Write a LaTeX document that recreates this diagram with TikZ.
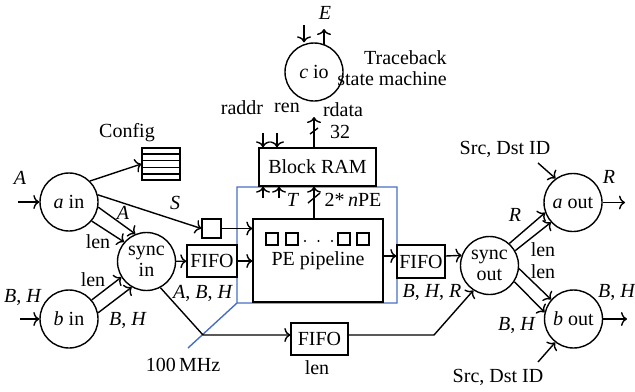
\documentclass[tikz,border=0pt]{standalone}
\usepackage{fontspec}
\setmainfont{Liberation Serif}
\usetikzlibrary{arrows,arrows.meta,positioning,calc}
\definecolor{clkblue}{RGB}{72,110,196}
\tikzset{
    unit/.style={circle, draw=black, minimum size=29pt, inner sep=0pt, align=center},
    blk/.style={rectangle, draw=black, inner sep=1pt},
    pil/.style={-{To[length=3pt,width=7pt]}},
    lbl/.style={inner sep=1pt}
}
\newcommand{\vi}[1]{\textit{#1}}

\begin{document}
\begin{tikzpicture}[x=0.5pt, y=-0.5pt, line width=0.7pt, font=\fontsize{10}{10.5}\selectfont]
    \useasboundingbox (0,0) rectangle (635,391);
    % clock domain
    \draw[clkblue] (188,348) -- (237,303) -- (397,303) -- (397,187) -- (237,187) -- (237,303);
    \node[lbl] (mhz) at (183,365) {100\,MHz};

    % state machines
    \node[unit] (ain) at (69,202) {\vi{a} in};
    \node[unit] (bin) at (69,319) {\vi{b} in};
    \node[unit] (syncin) at (146.5,261.5) {sync\\in};
    \node[unit] (cio) at (314,72) {\vi{c} io};
    \node[unit] (syncout) at (489.5,265.5) {sync\\out};
    \node[unit] (aout) at (573,202.5) {\vi{a} out};
    \node[unit] (bout) at (573.5,319) {\vi{b} out};

    % boxes
    \node[blk, minimum width=58.5pt, minimum height=19pt] (bram) at (317.5,167) {Block RAM};
    \node[blk, minimum width=65pt, minimum height=41.5pt] (pe) at (318,260.5) {\raisebox{-6pt}{PE pipeline}};
    \foreach \x [count=\i] in {272,292,344,363}
      \node[blk, minimum size=6pt, inner sep=0pt] (pe\i) at (\x,239) {};
    \foreach \x [count=\i] in {305,318.5,332}
      \fill (\x,241) circle (0.6pt);
    \node[blk, minimum width=25pt, minimum height=16pt] (fifoin) at (212,261) {FIFO};
    \node[blk, minimum width=28.5pt, minimum height=16pt] (fifolen) at (319.5,339) {FIFO};
    \node[blk, minimum width=24pt, minimum height=16.5pt, inner sep=0pt] (fifoout) at (421,261.5) {FIFO};
    \node[blk, minimum size=9.5pt, inner sep=0pt] (sq) at (211.5,228.5) {};
    \node[blk, minimum width=19pt, minimum height=16pt, inner sep=0pt] (cfg) at (161,164) {};
    \foreach \k in {1,...,4}
      \draw ($(cfg.north west)!{\k/5}!(cfg.south west)$) -- ($(cfg.north east)!{\k/5}!(cfg.south east)$);
    \node[lbl] (cfgl) at (127,133) {Config};

    % left side
    \coordinate (ina) at (18,202);
    \coordinate (inb) at (20,319);
    \draw[pil] (ina) -- (ain);
    \node[lbl] at (20,178) {\vi{A}};
    \draw[pil] (inb) -- (bin);
    \node[lbl] at (23,297) {\vi{B}, \vi{H}};
    \draw[pil] (ain.45) -- (cfg.west);
    \draw[pil] (ain.14) -- (sq.west);
    \node[lbl] at (175,203) {\vi{S}};
    \draw[pil] (ain.-10) -- (syncin.112);
    \node[lbl] at (123,213) {\vi{A}};
    \draw[pil] (ain.-40) -- (syncin.139);
    \node[lbl] at (98,242) {len};
    \draw[pil] (bin.40) -- (syncin.212);
    \node[lbl] at (93,280) {len};
    \draw[pil] (bin.12) -- (syncin.240);
    \node[lbl] at (128,320) {\vi{B}, \vi{H}};
    \draw[pil] (syncin) -- (fifoin);
    \node[lbl] at (203,293) {\vi{A}, \vi{B}, \vi{H}};
    \draw[pil] (fifoin) -- (fifoin -| pe.west);
    \draw[pil] (sq) -- (sq -| pe.west);

    % len bypass
    \coordinate (bend1) at (203,335);
    \coordinate (bend2) at (434,335);
    \draw[pil] (syncin.-62) -- (bend1) -- (bend1 -| fifolen.west);
    \node[lbl] at (317,368) {len};
    \draw[pil] (bend2 -| fifolen.east) -- (bend2) -- (syncout.237);
    \node[lbl] at (432,292) {\vi{B}, \vi{H}, \vi{R}};

    % block RAM
    \coordinate (ra) at (263,133);
    \coordinate (re) at (277,133);
    \coordinate (rd) at (314,117);
    \draw[pil] (ra) -- (ra |- bram.north);
    \draw[pil] (re) -- (re |- bram.north);
    \draw[pil] (rd |- bram.north) -- (rd);
    \draw (310,134) -- (318,128);
    \node[lbl] at (242,108) {raddr};
    \node[lbl] at (287,108) {ren};
    \node[lbl] at (343,110) {rdata};
    \node[lbl] at (340,132) {32};
    \coordinate (wa) at (263,198);
    \coordinate (wb) at (279,198);
    \draw[pil] (wa) -- (wa |- bram.south);
    \draw[pil] (wb) -- (wb |- bram.south);
    \node[lbl] at (293,200) {\vi{T}};
    \draw[pil] (pe.north -| rd) -- (rd |- bram.south);
    \draw (308,203) -- (320,193);
    \node[lbl] at (353,200) {2*\,\vi{n}PE};

    % traceback
    \coordinate (cin) at (304,25);
    \coordinate (cout) at (324,29);
    \draw[pil] (cin) -- (cin |- cio.north);
    \draw[pil] (cout |- 0,45) -- (cout);
    \node[lbl] at (325,13) {\vi{E}};
    \node[lbl, align=right] (tbl) at (392,68) {Traceback\\state machine};

    % right side
    \coordinate (po) at (390,256);
    \draw[pil] (po -| pe.east) -- (po -| fifoout.west);
    \draw[pil] (po -| fifoout.east) -- (syncout.160);
    \draw[pil] (syncout.48) -- (aout.200);
    \node[lbl] at (515,215) {\vi{R}};
    \draw[pil] (syncout.30) -- (aout.222);
    \node[lbl] at (543,250) {len};
    \draw[pil] (syncout.-6) -- (bout.139);
    \node[lbl] at (543,272) {len};
    \draw[pil] (syncout.-33) -- (bout.167);
    \node[lbl] at (517,325) {\vi{B}, \vi{H}};
    \coordinate (oa) at (625,202.5);
    \coordinate (ob) at (627,319);
    \draw[pil] (aout) -- (oa);
    \node[lbl] at (609,177) {\vi{R}};
    \draw[pil] (bout) -- (ob);
    \node[lbl] at (617,292) {\vi{B}, \vi{H}};
    \node[lbl] (srca) at (505,149) {Src, Dst ID};
    \node[lbl] (srcb) at (498,377) {Src, Dst ID};
    \coordinate (sa) at (538,163);
    \coordinate (sb) at (538,362);
    \draw[pil] (sa) -- (aout.126);
    \draw[pil] (sb) -- (bout.232);
\end{tikzpicture}
\end{document}
